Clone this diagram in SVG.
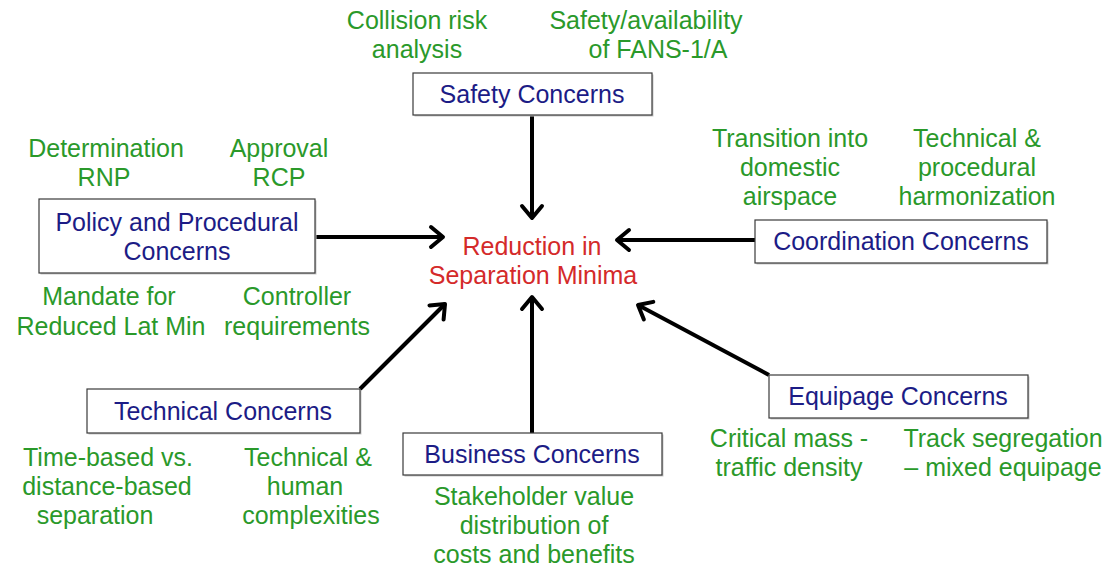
<svg xmlns="http://www.w3.org/2000/svg" width="1112" height="571" viewBox="0 0 1112 571">
<style>
text{font-family:"Liberation Sans",Arial,sans-serif;font-size:25px;text-anchor:middle}
.g{fill:#2a992a}
.b{fill:#1c1c86}
.r{fill:#d42a2a}
.box{fill:#fff;stroke:#3a3a3a;stroke-width:1.2}
.sh{fill:#c8c8c8}
.c{stroke:#000;stroke-width:4;fill:none;marker-end:url(#ah)}
</style>
<defs>
<marker id="ah" markerUnits="userSpaceOnUse" markerWidth="30" markerHeight="30" viewBox="-20 -15 30 30" refX="0" refY="0" orient="auto">
<path d="M-12,-10 L0,0 L-12,10" fill="none" stroke="#000" stroke-width="4" stroke-linecap="round" stroke-linejoin="round"/>
</marker>
</defs>
<rect width="1112" height="571" fill="#fff"/>
<g id="connectors">
<line class="c" x1="532" y1="115" x2="532" y2="218"/>
<line class="c" x1="315" y1="237" x2="443" y2="237"/>
<line class="c" x1="755" y1="240" x2="617" y2="240"/>
<line class="c" x1="360" y1="389" x2="445" y2="304"/>
<line class="c" x1="532" y1="433" x2="532" y2="297"/>
<line class="c" x1="769" y1="375" x2="638" y2="305"/>
</g>
<g id="center">
<text class="r" x="532" y="255">Reduction in</text>
<text class="r" x="533" y="284">Separation Minima</text>
</g>
<g id="safety">
<rect class="sh" x="414.5" y="74.5" width="239" height="42"/>
<rect class="box" x="413" y="73" width="239" height="42"/>
<text class="b" x="532" y="103">Safety Concerns</text>
</g>
<g id="policy">
<rect class="sh" x="40.5" y="200.5" width="276" height="74"/>
<rect class="box" x="39" y="199" width="276" height="74"/>
<text class="b" x="177" y="231">Policy and Procedural</text>
<text class="b" x="177" y="260">Concerns</text>
</g>
<g id="coordination">
<rect class="sh" x="756.5" y="221.5" width="292" height="43"/>
<rect class="box" x="755" y="220" width="292" height="43"/>
<text class="b" x="901" y="250">Coordination Concerns</text>
</g>
<g id="technical">
<rect class="sh" x="88.5" y="390.5" width="273" height="44"/>
<rect class="box" x="87" y="389" width="273" height="44"/>
<text class="b" x="223" y="420">Technical Concerns</text>
</g>
<g id="business">
<rect class="sh" x="404.5" y="434.5" width="259" height="42"/>
<rect class="box" x="403" y="433" width="259" height="42"/>
<text class="b" x="532" y="463">Business Concerns</text>
</g>
<g id="equipage">
<rect class="sh" x="770.5" y="376.5" width="259" height="43"/>
<rect class="box" x="769" y="375" width="259" height="43"/>
<text class="b" x="898" y="405">Equipage Concerns</text>
</g>
<g id="labels">
<text class="g" x="417" y="29">Collision risk</text>
<text class="g" x="417" y="58">analysis</text>
<text class="g" x="646" y="29">Safety/availability</text>
<text class="g" x="658" y="58">of FANS-1/A</text>
<text class="g" x="106" y="157">Determination</text>
<text class="g" x="104" y="186">RNP</text>
<text class="g" x="279" y="157">Approval</text>
<text class="g" x="279" y="186">RCP</text>
<text class="g" x="790" y="147">Transition into</text>
<text class="g" x="790" y="176">domestic</text>
<text class="g" x="790" y="205">airspace</text>
<text class="g" x="977" y="147">Technical &amp;</text>
<text class="g" x="977" y="176">procedural</text>
<text class="g" x="977" y="205">harmonization</text>
<text class="g" x="109" y="305">Mandate for</text>
<text class="g" x="111" y="335">Reduced Lat Min</text>
<text class="g" x="297" y="305">Controller</text>
<text class="g" x="297" y="335">requirements</text>
<text class="g" x="108" y="466">Time-based vs.</text>
<text class="g" x="107" y="495">distance-based</text>
<text class="g" x="95" y="524">separation</text>
<text class="g" x="308" y="466">Technical &amp;</text>
<text class="g" x="305" y="495">human</text>
<text class="g" x="311" y="524">complexities</text>
<text class="g" x="534" y="505">Stakeholder value</text>
<text class="g" x="534" y="534">distribution of</text>
<text class="g" x="534" y="563">costs and benefits</text>
<text class="g" x="789" y="447">Critical mass -</text>
<text class="g" x="789" y="476">traffic density</text>
<text class="g" x="1003" y="447">Track segregation</text>
<text class="g" x="1003" y="476">– mixed equipage</text>
</g>
</svg>
